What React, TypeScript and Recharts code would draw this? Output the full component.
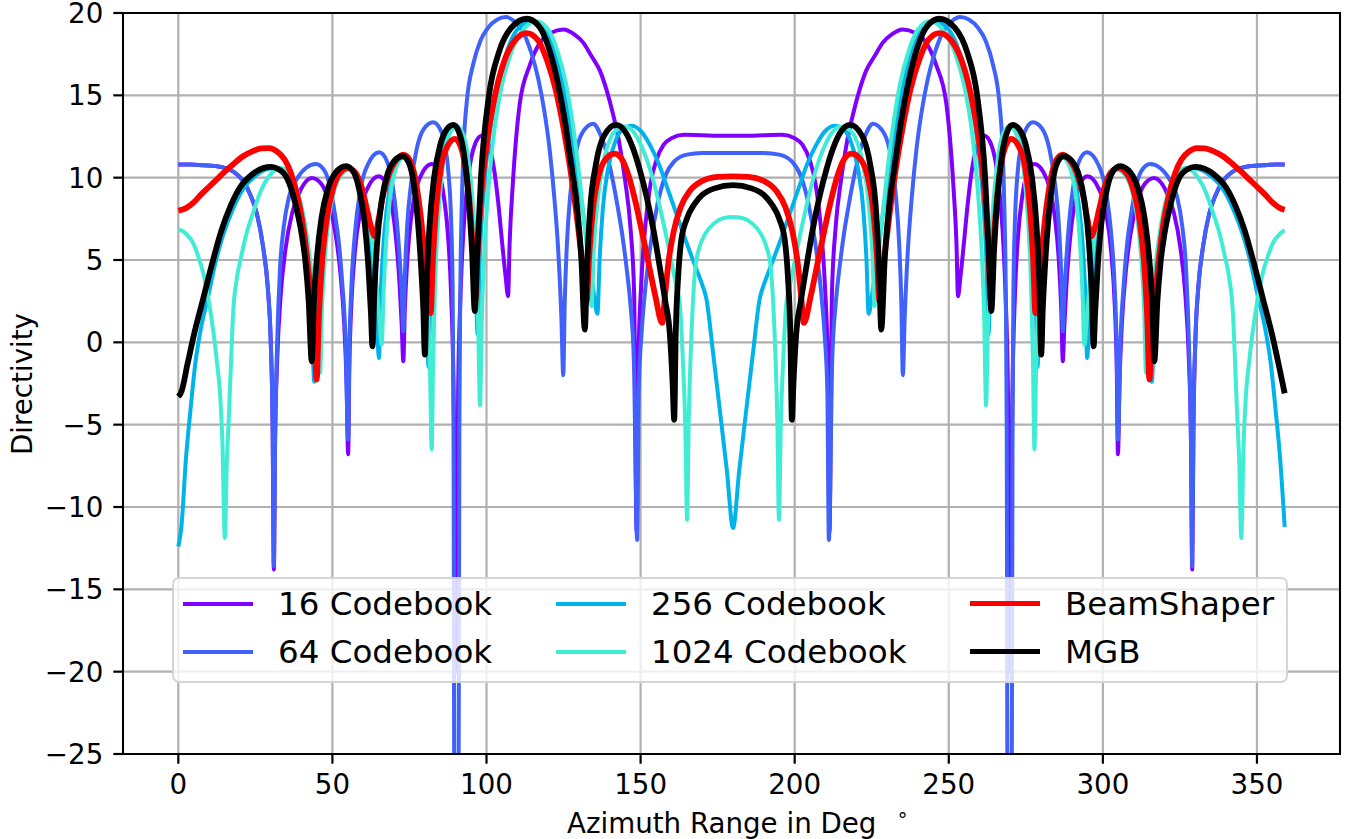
import React from 'react';
import { LineChart, Line, XAxis, YAxis, CartesianGrid } from 'recharts';

// [azimuth deg, directivity dB]
const codebook16: [number, number][] = [
  [0, 10.8], [4, 10.8], [8, 10.75], [12, 10.7], [15, 10.6], [18, 10.35], [21, 9.8], [23.5, 8.9], [25.5, 7.8], [27.5, 5.8], [29, 3.4], [30, 0], [30.6, -5], [31, -13.8],
  [31.4, -6], [32.1, -1], [33.2, 2.8], [34.8, 5.7], [37, 7.9], [39.8, 9.3], [43.3, 9.98], [46.5, 9.6], [49, 8.4], [51, 6.6], [52.6, 4.2], [53.8, 1.2], [54.6, -2.5], [55.1, -6.8],
  [55.5, -1.5], [56.2, 2.5], [57.3, 5.5], [59, 7.9], [61.5, 9.4], [65, 10.08], [67.5, 9.6], [69.3, 8.3], [70.7, 6.2], [71.8, 3.5], [72.5, 1], [73, -1.15],
  [73.5, 2], [74.3, 5], [75.5, 7.5], [77.3, 9.4], [79.5, 10.4], [82.2, 10.83], [84.5, 10.3], [86.2, 8.8], [87.5, 6.5], [88.5, 3], [89.4, -4], [90.1, -20],
  [90.8, -3], [91.6, 3], [92.6, 7], [94.2, 10.2], [96.2, 12], [98.4, 12.55], [100.5, 12.1], [102.3, 10.7], [103.8, 8.5], [105.1, 6], [106.2, 4], [107, 2.8],
  [107.5, 6], [108.5, 9.5], [110.8, 14.5], [114, 16.8], [117, 18.1], [121, 18.8], [124.9, 19.0], [128.5, 18.7], [131.4, 18.2], [134, 17.4], [136.8, 16.5], [139, 15.3], [141, 13.9], [143, 12.2], [145, 9.8], [146.7, 7], [147.9, 3], [148.7, -11.5],
  [149.3, -1], [150.2, 3.5], [151.5, 7], [153.2, 9.6], [155.2, 11.1], [157.5, 12.0], [160, 12.4], [164, 12.6], [170, 12.58], [175, 12.55], [180, 12.55],
  [185, 12.55], [190, 12.58], [196, 12.6], [200, 12.4], [202.5, 12.0], [204.8, 11.1], [206.8, 9.6], [208.5, 7], [209.8, 3.5], [210.7, -1], [211.3, -11.5],
  [212.1, 3], [213.3, 7], [215, 9.8], [217, 12.2], [219, 13.9], [221, 15.3], [223.2, 16.5], [226, 17.4], [228.6, 18.2], [231.5, 18.7], [235.1, 19.0], [239, 18.8], [243, 18.1], [246, 16.8], [249.2, 14.5], [251.5, 9.5], [252.5, 6], [253, 2.8],
  [253.8, 4], [254.9, 6], [256.2, 8.5], [257.7, 10.7], [259.5, 12.1], [261.6, 12.55], [263.8, 12], [265.8, 10.2], [267.4, 7], [268.4, 3], [269.2, -3], [269.9, -20],
  [270.6, -4], [271.5, 3], [272.5, 6.5], [273.8, 8.8], [275.5, 10.3], [277.8, 10.83], [280.5, 10.4], [282.7, 9.4], [284.5, 7.5], [285.7, 5], [286.5, 2], [287, -1.15],
  [287.5, 1], [288.2, 3.5], [289.3, 6.2], [290.7, 8.3], [292.5, 9.6], [295, 10.08], [298.5, 9.4], [301, 7.9], [302.7, 5.5], [303.8, 2.5], [304.5, -1.5], [304.9, -6.8],
  [305.4, -2.5], [306.2, 1.2], [307.4, 4.2], [309, 6.6], [311, 8.4], [313.5, 9.6], [316.7, 9.98], [320.2, 9.3], [323, 7.9], [325.2, 5.7], [326.8, 2.8], [327.9, -1], [328.6, -6], [329, -13.8],
  [329.4, -5], [330, 0], [331, 3.4], [332.5, 5.8], [334.5, 7.8], [336.5, 8.9], [339, 9.8], [342, 10.35], [345, 10.6], [348, 10.7], [352, 10.75], [356, 10.8], [359, 10.8],
];

const codebook64: [number, number][] = [
  [0, 10.8], [4, 10.8], [8, 10.75], [12, 10.7], [15, 10.6], [18, 10.35], [21, 9.8], [23.5, 8.9], [25.5, 7.8], [27.5, 5.8], [29, 3.4], [30, 0], [30.6, -5], [31, -13.6],
  [31.4, -6], [32, -0.5], [33, 4.5], [34.2, 7], [36, 8.9], [38.4, 9.9], [41.5, 10.6], [44.7, 10.83], [47.5, 10.4], [49.3, 9.4], [50.8, 7.8], [52, 6.2], [53.2, 3.6], [54.3, 0], [55.1, -5.9],
  [55.5, -0.5], [56.2, 3.5], [57.3, 6.6], [59, 9.2], [61.5, 10.8], [65.2, 11.54], [67.7, 11.0], [69.5, 9.6], [70.9, 7.4], [72, 4.6], [72.6, 2.6], [73, 0.67],
  [73.5, 4], [74.3, 7.2], [75.5, 9.6], [77.3, 11.7], [79.8, 13.0], [82.7, 13.36], [84.8, 13.0], [86.5, 12.0], [87.7, 10.2], [88.5, 7.5], [89, 3.5], [89.3, -5], [89.6, -30],
  [90.9, -30], [91.2, -5], [91.5, 3], [92, 8.5], [92.6, 12], [93.6, 14.6], [95.7, 16.9], [98, 18.3], [100.5, 19.1], [103.5, 19.6], [106.3, 19.75], [109, 19.5], [112, 18.8], [114.5, 17.6], [116.8, 16.0], [118.8, 14.0], [120.5, 11.7], [122, 8.8], [123.3, 5.5], [124.3, 1.5], [124.9, -2.0],
  [125.4, 2.5], [126.1, 6], [127.2, 9], [128.8, 11.3], [131, 12.7], [134.6, 13.28], [137, 12.6], [139, 11.5], [140.8, 10], [142.5, 8.3], [144, 6.6], [145.4, 4.6], [146.7, 2.3], [147.8, -1], [148.9, -12],
  [149.4, -3], [150.3, 0.5], [151.5, 3.2], [153.3, 6], [155.5, 8.4], [158, 10.1], [161, 11.0], [165, 11.4], [170, 11.5], [180, 11.5],
  [190, 11.5], [195, 11.4], [199, 11.0], [202, 10.1], [204.5, 8.4], [206.7, 6], [208.5, 3.2], [209.7, 0.5], [210.6, -3], [211.1, -12],
  [212.2, -1], [213.3, 2.3], [214.6, 4.6], [216, 6.6], [217.5, 8.3], [219.2, 10], [221, 11.5], [223, 12.6], [225.4, 13.28], [229, 12.7], [231.2, 11.3], [232.8, 9], [233.9, 6], [234.6, 2.5], [235.1, -2.0],
  [235.7, 1.5], [236.7, 5.5], [238, 8.8], [239.5, 11.7], [241.2, 14.0], [243.2, 16.0], [245.5, 17.6], [248, 18.8], [251, 19.5], [253.7, 19.75], [256.5, 19.6], [259.5, 19.1], [262, 18.3], [264.3, 16.9], [266.4, 14.6], [267.4, 12], [268, 8.5], [268.5, 3], [268.8, -5], [269.1, -30],
  [270.4, -30], [270.7, -5], [271, 3.5], [271.5, 7.5], [272.3, 10.2], [273.5, 12.0], [275.2, 13.0], [277.3, 13.36], [280.2, 13.0], [282.7, 11.7], [284.5, 9.6], [285.7, 7.2], [286.5, 4], [287, 0.67],
  [287.4, 2.6], [288, 4.6], [289.1, 7.4], [290.5, 9.6], [292.3, 11.0], [294.8, 11.54], [298.5, 10.8], [301, 9.2], [302.7, 6.6], [303.8, 3.5], [304.5, -0.5], [304.9, -5.9],
  [305.7, 0], [306.8, 3.6], [308, 6.2], [309.2, 7.8], [310.7, 9.4], [312.5, 10.4], [315.3, 10.83], [318.5, 10.6], [321.6, 9.9], [324, 8.9], [325.8, 7], [327, 4.5], [328, -0.5], [328.6, -6], [329, -13.6],
  [329.4, -5], [330, 0], [331, 3.4], [332.5, 5.8], [334.5, 7.8], [336.5, 8.9], [339, 9.8], [342, 10.35], [345, 10.6], [348, 10.7], [352, 10.75], [356, 10.8], [359, 10.8],
];

const codebook256: [number, number][] = [
  [0, -12.4], [1, -11.2], [2.5, -7], [4, -4], [5.5, -1.3], [7.5, 1], [9.7, 2.8], [12, 4.8], [14.5, 6.5], [17.5, 8.0], [21, 9.3], [25, 10.1], [30, 10.55], [34, 10.3], [37, 9.4], [39.2, 8.0], [41, 6.0], [42.4, 3.5], [43.4, 0.8], [44.1, -2.4],
  [44.7, 1.5], [45.6, 4.8], [47, 7.3], [49, 9.2], [51.5, 10.2], [54.6, 10.6], [57.5, 10.2], [59.7, 9.0], [61.4, 7.3], [62.8, 5.0], [63.9, 2.3], [64.6, 0.3], [65.1, -0.95],
  [65.6, 2.5], [66.4, 5.5], [67.7, 8.2], [69.5, 10.2], [71.5, 11.1], [73.5, 11.35], [75.5, 11.0], [77.2, 9.7], [78.6, 7.7], [79.7, 5.0], [80.6, 2.0], [81.2, -1.5],
  [81.8, 3], [82.7, 6.8], [84.2, 9.9], [86.2, 12.1], [88.2, 13.0], [89.8, 13.2], [91.7, 12.8], [93.4, 11.3], [94.8, 8.9], [95.9, 5.8], [96.6, 3], [97.1, 0.5],
  [97.8, 5], [99, 9], [101, 12.6], [103.5, 15.4], [106.5, 17.6], [110, 19.0], [114.5, 19.5], [118.5, 19.1], [121.5, 18.0], [124.3, 16.1], [126.8, 13.6], [129.2, 10.7], [131.4, 7.8], [133.3, 5], [134.8, 3], [136, 1.74],
  [136.7, 5], [137.7, 8], [139.5, 10.6], [142, 12.3], [144.5, 13], [147.1, 13.16], [150, 12.85], [153, 12.0], [156, 10.8], [159, 9.2], [162, 7.6], [165, 6.0], [168, 4.5], [170, 3.5], [171.4, 2.6], [173.5, -0.6], [175.7, -4.1], [178, -7.8], [180, -11.27],
  [182, -7.8], [184.3, -4.1], [186.5, -0.6], [188.6, 2.6], [190, 3.5], [192, 4.5], [195, 6.0], [198, 7.6], [201, 9.2], [204, 10.8], [207, 12.0], [210, 12.85], [212.9, 13.16], [215.5, 13], [218, 12.3], [220.5, 10.6], [222.3, 8], [223.3, 5], [224, 1.74],
  [225.2, 3], [226.7, 5], [228.6, 7.8], [230.8, 10.7], [233.2, 13.6], [235.7, 16.1], [238.5, 18.0], [241.5, 19.1], [245.5, 19.5], [250, 19.0], [253.5, 17.6], [256.5, 15.4], [259, 12.6], [261, 9], [262.2, 5], [262.9, 0.5],
  [263.4, 3], [264.1, 5.8], [265.2, 8.9], [266.6, 11.3], [268.3, 12.8], [270.2, 13.2], [271.8, 13.0], [273.8, 12.1], [275.8, 9.9], [277.3, 6.8], [278.2, 3], [278.8, -1.5],
  [279.4, 2.0], [280.3, 5.0], [281.4, 7.7], [282.8, 9.7], [284.5, 11.0], [286.5, 11.35], [288.5, 11.1], [290.5, 10.2], [292.3, 8.2], [293.6, 5.5], [294.4, 2.5], [294.9, -0.95],
  [295.4, 0.3], [296.1, 2.3], [297.2, 5.0], [298.6, 7.3], [300.3, 9.0], [302.5, 10.2], [305.4, 10.6], [308.5, 10.2], [311, 9.2], [313, 7.3], [314.4, 4.8], [315.3, 1.5], [315.9, -2.4],
  [316.6, 0.8], [317.6, 3.5], [319, 6.0], [320.8, 8.0], [323, 9.4], [326, 10.3], [330, 10.55], [335, 10.1], [339, 9.3], [342.5, 8.0], [345.5, 6.5], [348, 4.8], [350.3, 2.8], [352.5, 1], [354.5, -1.3], [356, -4], [357.5, -7], [359, -11.2],
];

const codebook1024: [number, number][] = [
  [0, 6.84], [1.5, 6.75], [3, 6.5], [4.9, 6.0], [6.5, 5.2], [8.1, 4.2], [9.8, 2.6], [11.4, 0.6], [12.6, -1.3], [13.5, -3], [14.3, -6], [15.1, -11.88],
  [15.7, -7.5], [16.4, -4.5], [17.1, -1.2], [17.8, 1.8], [19, 3.9], [20.5, 5.3], [22.2, 6.65], [24.5, 8.0], [26.5, 9.07], [29.5, 10.1], [33, 10.59], [36, 10.3], [38.5, 9.3], [40.7, 7.6], [42.6, 5.2], [44, 2.8], [45.1, 0.3], [46, -1.86],
  [46.6, 2], [47.5, 5], [48.8, 7.5], [50.7, 9.3], [53, 10.2], [55.7, 10.49], [58.3, 10.1], [60.5, 8.9], [62.3, 7.0], [63.8, 4.5], [65, 2], [66, -0.14],
  [66.6, 3], [67.4, 6], [68.7, 8.8], [70.3, 10.4], [72, 11.1], [73.7, 11.3], [75.7, 10.9], [77.5, 9.6], [79, 7.5], [80.2, 4.7], [81.1, 1.5], [81.7, -2], [82.2, -6.5],
  [82.7, -1], [83.3, 3.5], [84.3, 7.5], [85.7, 10.5], [87.5, 12.4], [90.3, 13.1], [92.5, 12.6], [94.2, 11.0], [95.6, 8.3], [96.6, 5], [97.3, 1], [97.9, -3.84],
  [98.5, 1.5], [99.3, 5.5], [100.7, 9.5], [102.5, 12.8], [105, 15.6], [108, 17.6], [112, 19.0], [116.2, 19.5], [120, 19.0], [123, 17.7], [125.8, 15.7], [128.2, 13.0], [130.3, 9.8], [132, 6.8], [133.3, 4.3], [134.1, 2.19],
  [134.8, 5.5], [136, 8.5], [138, 11], [140.5, 12.5], [143, 13.0], [145, 13.1], [148, 12.7], [151, 11.6], [154, 9.9], [157, 7.6], [159.5, 5.4], [161.5, 3.5], [162.7, 2.4], [163.7, -1], [164.5, -5], [165.1, -10.77],
  [165.6, -5], [166.3, -0.5], [167, 2.5], [167.8, 4.6], [169, 5.7], [171, 6.6], [174, 7.25], [177, 7.55], [180, 7.61],
  [183, 7.55], [186, 7.25], [189, 6.6], [191, 5.7], [192.2, 4.6], [193, 2.5], [193.7, -0.5], [194.4, -5], [194.9, -10.77],
  [195.5, -5], [196.3, -1], [197.3, 2.4], [198.5, 3.5], [200.5, 5.4], [203, 7.6], [206, 9.9], [209, 11.6], [212, 12.7], [215, 13.1], [217, 13.0], [219.5, 12.5], [222, 11], [224, 8.5], [225.2, 5.5], [225.9, 2.19],
  [226.7, 4.3], [228, 6.8], [229.7, 9.8], [231.8, 13.0], [234.2, 15.7], [237, 17.7], [240, 19.0], [243.8, 19.5], [248, 19.0], [252, 17.6], [255, 15.6], [257.5, 12.8], [259.3, 9.5], [260.7, 5.5], [261.5, 1.5], [262.1, -3.84],
  [262.7, 1], [263.4, 5], [264.4, 8.3], [265.8, 11.0], [267.5, 12.6], [269.7, 13.1], [272.5, 12.4], [274.3, 10.5], [275.7, 7.5], [276.7, 3.5], [277.3, -1], [277.8, -6.5],
  [278.3, -2], [278.9, 1.5], [279.8, 4.7], [281, 7.5], [282.5, 9.6], [284.3, 10.9], [286.3, 11.3], [288, 11.1], [289.7, 10.4], [291.3, 8.8], [292.6, 6], [293.4, 3], [294, -0.14],
  [295, 2], [296.2, 4.5], [297.7, 7.0], [299.5, 8.9], [301.7, 10.1], [304.3, 10.49], [307, 10.2], [309.3, 9.3], [311.2, 7.5], [312.5, 5], [313.4, 2], [314, -1.86],
  [314.9, 0.3], [316, 2.8], [317.4, 5.2], [319.3, 7.6], [321.5, 9.3], [324, 10.3], [327, 10.59], [330.5, 10.1], [333.5, 9.07], [335.5, 8.0], [337.8, 6.65], [339.5, 5.3], [341, 3.9], [342.2, 1.8], [342.9, -1.2], [343.6, -4.5], [344.3, -7.5], [344.9, -11.88],
  [345.7, -6], [346.5, -3], [347.4, -1.3], [348.6, 0.6], [350.2, 2.6], [351.9, 4.2], [353.5, 5.2], [355.1, 6.0], [357, 6.5], [358.5, 6.75], [359, 6.8],
];

const beamShaper: [number, number][] = [
  [0, 8.0], [2.5, 8.15], [5, 8.5], [7.5, 9.0], [10, 9.45], [12.5, 9.9], [15, 10.35], [18, 10.85], [21, 11.3], [24, 11.6], [27, 11.78], [29.5, 11.8], [32, 11.6], [34.5, 11.1], [36.5, 10.3], [38.5, 9.0], [40.2, 7.4], [41.7, 5.3], [43, 2.8], [44.2, 0.2], [44.9, -2.26],
  [45.6, 1.5], [46.5, 4.5], [48, 7.3], [50, 9.2], [52.5, 10.3], [55, 10.6], [57.5, 10.3], [59.5, 9.4], [61.3, 8.0], [62.7, 6.9], [63.8, 6.44], [65, 7.5], [66.5, 9.0], [68.5, 10.3], [70.5, 11.0], [73, 11.4], [75, 11.1], [76.8, 10.0], [78.3, 8.2], [79.6, 6.0], [80.7, 3.8], [81.9, 1.78],
  [82.6, 5], [83.6, 8], [85.2, 10.6], [87.3, 11.9], [89.8, 12.35], [91.6, 11.9], [93.2, 10.6], [94.6, 8.3], [95.6, 5.5], [96.4, 2.6],
  [97.2, 5.8], [98.5, 9.4], [100.5, 12.6], [103, 15.2], [106, 17.2], [109.5, 18.4], [113, 18.78], [116.5, 18.4], [119.5, 17.2], [122.5, 15.3], [125, 13.0], [127.2, 10.5], [129.2, 7.8], [130.8, 5.3], [132.5, 2.5],
  [133.3, 5.2], [134.5, 8], [136.5, 10.2], [139, 11.2], [141.6, 11.46], [144, 11.1], [146.3, 10], [148.5, 8.4], [150.7, 6.5], [152.8, 4.6], [154.8, 2.8], [157, 1.18],
  [157.8, 2.6], [159, 4.8], [160.7, 6.7], [163, 8.2], [166, 9.2], [170, 9.8], [175, 10.05], [180, 10.08],
  [185, 10.05], [190, 9.8], [194, 9.2], [197, 8.2], [199.3, 6.7], [201, 4.8], [202.2, 2.6], [203, 1.18],
  [205.2, 2.8], [207.2, 4.6], [209.3, 6.5], [211.5, 8.4], [213.7, 10], [216, 11.1], [218.4, 11.46], [221, 11.2], [223.5, 10.2], [225.5, 8], [226.7, 5.2], [227.5, 2.5],
  [229.2, 5.3], [230.8, 7.8], [232.8, 10.5], [235, 13.0], [237.5, 15.3], [240.5, 17.2], [243.5, 18.4], [247, 18.78], [250.5, 18.4], [254, 17.2], [257, 15.2], [259.5, 12.6], [261.5, 9.4], [262.8, 5.8], [263.6, 2.6],
  [264.4, 5.5], [265.4, 8.3], [266.8, 10.6], [268.4, 11.9], [270.2, 12.35], [272.7, 11.9], [274.8, 10.6], [276.4, 8], [277.4, 5], [278.1, 1.78],
  [279.3, 3.8], [280.4, 6.0], [281.7, 8.2], [283.2, 10.0], [285, 11.1], [287, 11.4], [289.5, 11.0], [291.5, 10.3], [293.5, 9.0], [295, 7.5], [296.2, 6.44], [297.3, 6.9], [298.7, 8.0], [300.5, 9.4], [302.5, 10.3], [305, 10.6], [307.5, 10.3], [310, 9.2], [312, 7.3], [313.5, 4.5], [314.4, 1.5], [315.1, -2.26],
  [315.8, 0.2], [317, 2.8], [318.3, 5.3], [319.8, 7.4], [321.5, 9.0], [323.5, 10.3], [325.5, 11.1], [328, 11.6], [330.5, 11.8], [333, 11.78], [336, 11.6], [339, 11.3], [342, 10.85], [345, 10.35], [347.5, 9.9], [350, 9.45], [352.5, 9.0], [355, 8.5], [357.5, 8.15], [359, 8.05],
];

const mgb: [number, number][] = [
  [0, -3.3], [1, -3.0], [3, -1.3], [5, 0.4], [8, 2.6], [11, 4.8], [14, 6.8], [17, 8.3], [20, 9.4], [24, 10.2], [30, 10.65], [34, 10.3], [36.5, 9.4], [38.5, 8.0], [40, 6.6], [41.3, 4.8], [42.3, 2.5], [43.3, -1.15],
  [44, 2.5], [45, 5.2], [46.5, 7.6], [48.5, 9.3], [51, 10.3], [54.4, 10.7], [57, 10.3], [59, 9.0], [60.5, 7.2], [61.7, 4.5], [62.5, 1.8], [63, -0.24],
  [63.6, 3], [64.5, 6], [66, 8.6], [68, 10.3], [70, 11.0], [72.8, 11.3], [74.8, 10.9], [76.5, 9.5], [77.8, 7.2], [78.9, 4.2], [79.5, 2], [80, -0.75],
  [80.6, 3.5], [81.5, 7], [83, 10], [85, 12.0], [87, 12.9], [89.2, 13.2], [91, 12.8], [92.8, 11.3], [94.2, 8.8], [95.3, 5.6], [96.2, 1.9],
  [96.9, 5], [98.2, 10], [100.8, 15], [104, 17.6], [108, 19.1], [113, 19.65], [117, 19.2], [120, 18.0], [123, 15.9], [125.5, 13.4], [127.5, 10.8], [129.3, 8.4], [130.8, 5], [131.9, 0.77],
  [132.6, 4.5], [133.6, 8], [135.5, 10.8], [138, 12.5], [142, 13.2], [145, 12.8], [147.5, 11.8], [149.7, 10.5], [152, 8.8], [154.2, 6.8], [156.2, 4.6], [158, 2.5], [159.5, 0.5], [160.4, -2.5], [160.9, -4.7],
  [161.4, 0.5], [162.2, 4], [163.2, 6.2], [165, 7.5], [167.5, 8.4], [170, 8.95], [174, 9.35], [180, 9.55],
  [186, 9.35], [190, 8.95], [192.5, 8.4], [195, 7.5], [196.8, 6.2], [197.8, 4], [198.6, 0.5], [199.1, -4.7],
  [199.6, -2.5], [200.5, 0.5], [202, 2.5], [203.8, 4.6], [205.8, 6.8], [208, 8.8], [210.3, 10.5], [212.5, 11.8], [215, 12.8], [218, 13.2], [222, 12.5], [224.5, 10.8], [226.4, 8], [227.4, 4.5], [228.1, 0.77],
  [229.2, 5], [230.7, 8.4], [232.5, 10.8], [234.5, 13.4], [237, 15.9], [240, 18.0], [243, 19.2], [247, 19.65], [252, 19.1], [256, 17.6], [259.2, 15], [261.8, 10], [263.1, 5], [263.8, 1.9],
  [264.7, 5.6], [265.8, 8.8], [267.2, 11.3], [269, 12.8], [270.8, 13.2], [273, 12.9], [275, 12.0], [277, 10], [278.5, 7], [279.4, 3.5], [280, -0.75],
  [280.5, 2], [281.1, 4.2], [282.2, 7.2], [283.5, 9.5], [285.2, 10.9], [287.2, 11.3], [290, 11.0], [292, 10.3], [294, 8.6], [295.5, 6], [296.4, 3], [297, -0.24],
  [297.5, 1.8], [298.3, 4.5], [299.5, 7.2], [301, 9.0], [303, 10.3], [305.6, 10.7], [309, 10.3], [311.5, 9.3], [313.5, 7.6], [315, 5.2], [316, 2.5], [316.7, -1.15],
  [317.7, 2.5], [318.7, 4.8], [320, 6.6], [321.5, 8.0], [323.5, 9.4], [326, 10.3], [330, 10.65], [336, 10.2], [340, 9.4], [343, 8.3], [346, 6.8], [349, 4.8], [352, 2.6], [355, 0.4], [357, -1.3], [359, -3.1],
];

const azimuthTicks = [0, 50, 100, 150, 200, 250, 300, 350];
const directivityTicks = [-25, -20, -15, -10, -5, 0, 5, 10, 15, 20];

const series = [
  { name: '16 Codebook', data: codebook16, color: '#8000ff', width: 4 },
  { name: '64 Codebook', data: codebook64, color: '#4062fa', width: 4 },
  { name: '256 Codebook', data: codebook256, color: '#00b4eb', width: 4 },
  { name: '1024 Codebook', data: codebook1024, color: '#40ecd4', width: 4 },
  { name: 'BeamShaper', data: beamShaper, color: '#ff0000', width: 5.8 },
  { name: 'MGB', data: mgb, color: '#000000', width: 5.8 },
];

const FONT = '"DejaVu Sans", sans-serif';
const fmt = (v: number) => (v < 0 ? '\u2212' + Math.abs(v) : String(v));

// plot box in page pixels
const PLOT = { left: 123, top: 13, width: 1217, height: 741 };

const legendCols = [
  { handle: 183, text: 278 },
  { handle: 556, text: 651 },
  { handle: 970, text: 1065 },
];
const legendRows = [603.5, 651.5];

const App = () => {
  return (
    <div style={{ position: 'absolute', left: 0, top: 0, width: 1348, height: 839, background: '#fff', fontFamily: FONT }}>
      <LineChart width={1348} height={839} margin={{ top: 13, right: 8, bottom: 0, left: 0 }}>
        <CartesianGrid stroke="#b0b0b0" strokeWidth={2.2} />
        <XAxis
          type="number"
          dataKey="x"
          domain={[-17.95, 376.95]}
          ticks={azimuthTicks}
          interval={0}
          allowDataOverflow
          height={85}
          axisLine={false}
          tickLine={{ stroke: '#000', strokeWidth: 2.2 }}
          tickSize={9.7}
          tickMargin={11}
          tick={{ fontSize: 27.7, fill: '#000', fontFamily: FONT }}
        />
        <YAxis
          type="number"
          domain={[-25, 20]}
          ticks={directivityTicks}
          interval={0}
          allowDataOverflow
          width={123}
          axisLine={false}
          tickLine={{ stroke: '#000', strokeWidth: 2.2 }}
          tickSize={9.7}
          tickMargin={10}
          tickFormatter={fmt}
          tick={{ fontSize: 27.7, fill: '#000', fontFamily: FONT }}
        />
        {series.map((s) => (
          <Line
            key={s.name}
            data={s.data.map(([x, y]) => ({ x, y }))}
            dataKey="y"
            name={s.name}
            type="monotone"
            stroke={s.color}
            strokeWidth={s.width}
            strokeLinejoin="round"
            dot={false}
            activeDot={false}
            isAnimationActive={false}
          />
        ))}
      </LineChart>

      {/* axes frame */}
      <div
        style={{
          position: 'absolute',
          left: PLOT.left - 1.1,
          top: PLOT.top - 1.1,
          width: PLOT.width + 2.2,
          height: PLOT.height + 2.2,
          border: '2.2px solid #000',
          boxSizing: 'border-box',
          pointerEvents: 'none',
        }}
      />

      {/* legend */}
      <div
        style={{
          position: 'absolute',
          left: 171.5,
          top: 577,
          width: 1116,
          height: 105.5,
          background: 'rgba(255,255,255,0.8)',
          border: '2px solid rgba(204,204,204,0.8)',
          borderRadius: 7,
          boxSizing: 'border-box',
        }}
      />
      {series.map((s, i) => {
        const col = legendCols[Math.floor(i / 2)];
        const row = legendRows[i % 2];
        return (
          <React.Fragment key={s.name}>
            <div
              style={{
                position: 'absolute',
                left: col.handle,
                top: row - s.width / 2,
                width: 70,
                height: s.width,
                background: s.color,
              }}
            />
            <div
              style={{
                position: 'absolute',
                left: col.text,
                top: row - 19,
                height: 38,
                lineHeight: '38px',
                fontSize: 32.5,
                color: '#000',
                whiteSpace: 'nowrap',
              }}
            >
              {s.name}
            </div>
          </React.Fragment>
        );
      })}

      {/* axis labels */}
      <div
        style={{
          position: 'absolute',
          left: 567,
          top: 807,
          fontSize: 27.7,
          color: '#000',
          whiteSpace: 'nowrap',
        }}
      >
        Azimuth Range in Deg
        <span style={{ fontSize: '0.7em', position: 'relative', top: '-0.6em', marginLeft: 20 }}>{'\u2218'}</span>
      </div>
      <div
        style={{
          position: 'absolute',
          left: 22.4,
          top: 383.8,
          transform: 'translate(-50%, -50%) rotate(-90deg)',
          fontSize: 27.7,
          color: '#000',
          whiteSpace: 'nowrap',
        }}
      >
        Directivity
      </div>
    </div>
  );
};

export default App;
